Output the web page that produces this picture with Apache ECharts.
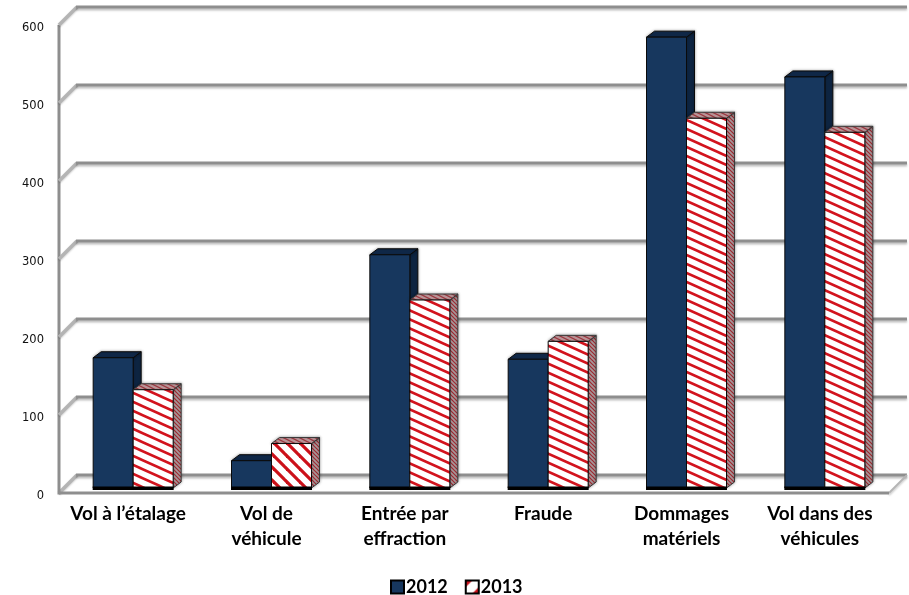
<!DOCTYPE html>
<html><head><meta charset="utf-8">
<style>html,body{margin:0;padding:0;background:#fff}#c{width:909px;height:595px}</style>
<script src="https://cdn.jsdelivr.net/npm/echarts@6/dist/echarts.min.js"></script>
</head><body><div id="c"></div>
<script>
const categories = ["Vol à l’étalage","Vol de\nvéhicule","Entrée par\neffraction","Fraude","Dommages\nmatériels","Vol dans des\nvéhicules"];
const values2012 = [167,35,299,165,578,527];
const values2013 = [126,57,241,188,474,456];
const yTicks = [0,100,200,300,400,500,600];
const seriesNames = ["2012","2013"];

function tile(w,h,bg,fg,lw){
  const c=document.createElement('canvas');c.width=w;c.height=h;
  const g=c.getContext('2d');g.fillStyle=bg;g.fillRect(0,0,w,h);
  g.strokeStyle=fg;g.lineWidth=lw;g.lineCap='square';
  for(let k=-2;k<=2;k++){g.beginPath();g.moveTo(-w,k*h-h);g.lineTo(2*w,k*h+2*h);g.stroke();}
  return {image:c,repeat:'repeat'};
}
function legendTile(n,bg,fg){
  const c=document.createElement('canvas');c.width=n;c.height=n;
  const g=c.getContext('2d');g.fillStyle=bg;g.fillRect(0,0,n,n);
  g.fillStyle=fg;
  g.beginPath();g.moveTo(0,0);g.lineTo(n*0.5,0);g.lineTo(0,n*0.5);g.closePath();g.fill();
  g.beginPath();g.moveTo(n,n);g.lineTo(n*0.5,n);g.lineTo(n,n*0.5);g.closePath();g.fill();
  return {image:c,repeat:'repeat'};
}
const frontTall = tile(20,9,'#ffffff','#d2131d',2.6);
const frontShort = tile(13,13,'#ffffff','#cc1019',3.2);
const sidePat = tile(4,4,'#a89a9c','#a02a32',1.2);
const topPat = tile(8,4,'#c0999c','#a03a42',1.2);
const legendPat = legendTile(13,'#ffffff','#c8101a');

const DX=8, DY=6, BARW=40, PLANE_X=5, PLANE_Y=5, WALL=18;

function barItem(idx){
  return function(params,api){
    const i=api.value(0), p=api.coord([i,api.value(1)]), base=api.coord([i,0]);
    const x0=p[0]+PLANE_X+(idx===0?-BARW:0), x1=x0+BARW;
    const yTop=p[1]-PLANE_Y, yBase=base[1]-PLANE_Y;
    const h=yBase-yTop;
    const front = idx===0 ? '#17375e' : (h<60?frontShort:frontTall);
    const side = idx===0 ? '#0e2542' : sidePat;
    const top = idx===0 ? '#10294a' : topPat;
    const edge = {stroke:idx===0?'#0a0a0a':'#3a3a3a',lineWidth:1};
    return {type:'group',children:[
      {type:'polygon',shape:{points:[[x1,yTop],[x1+DX,yTop-DY],[x1+DX,yBase-DY],[x1,yBase]]},
        style:Object.assign({fill:side,shadowBlur:3,shadowColor:'rgba(0,0,0,0.35)'},edge)},
      {type:'polygon',shape:{points:[[x0,yTop],[x0+DX,yTop-DY],[x1+DX,yTop-DY],[x1,yTop]]},
        style:Object.assign({fill:top,shadowBlur:3,shadowColor:'rgba(0,0,0,0.35)'},edge)},
      {type:'rect',shape:{x:x0,y:yTop,width:BARW,height:h},style:{fill:front,stroke:'#0a0a0a',lineWidth:1}},
      {type:'rect',shape:{x:x0-0.5,y:yBase-1.5,width:BARW+1,height:3.5},style:{fill:'#000'}}
    ]};
  };
}
function wallItem(params,api){
  const v=api.value(1), p=api.coord([0,v]), size=api.size([1,0]);
  const left=api.coord([0,0])[0]-size[0]/2, right=left+size[0]*categories.length;
  const kids=[];
  const st={stroke:'#8e8e8e',lineWidth:3,shadowBlur:2,shadowOffsetY:2,shadowColor:'rgba(0,0,0,0.25)'};
  const diag={stroke:'#b4b4b4',lineWidth:3.5,shadowBlur:2,shadowOffsetY:1,shadowColor:'rgba(0,0,0,0.2)'};
  kids.push({type:'line',shape:{x1:left,y1:p[1],x2:left+WALL,y2:p[1]-WALL},style:diag});
  kids.push({type:'line',shape:{x1:left+WALL-1,y1:p[1]-WALL,x2:right+WALL,y2:p[1]-WALL},style:st});
  if(v===0){
    kids.push({type:'line',shape:{x1:right,y1:p[1],x2:right+WALL,y2:p[1]-WALL},style:{stroke:'#b5b5b5',lineWidth:2,shadowBlur:2,shadowOffsetY:2,shadowColor:'rgba(0,0,0,0.2)'}});
    kids.push({type:'line',shape:{x1:left,y1:p[1],x2:right,y2:p[1]},style:{stroke:'#8e8e8e',lineWidth:3}});
    kids.push({type:'line',shape:{x1:left,y1:p[1]+1.5,x2:left,y2:api.coord([0,600])[1]},style:{stroke:'#8e8e8e',lineWidth:3}});
  }
  return {type:'group',children:kids};
}
const chart=echarts.init(document.getElementById('c'));
chart.setOption({
  animation:false,
  backgroundColor:'#fff',
  grid:{left:59,right:20,top:25,bottom:102},
  legend:{data:seriesNames,top:573,left:385,icon:'rect',itemWidth:13,itemHeight:13,itemGap:17,
    selectedMode:false,
    textStyle:{fontFamily:'Lato',fontWeight:'bold',fontSize:18,color:'#000',padding:[0,0,0,-3]}},
  xAxis:{type:'category',data:categories,axisLine:{show:false},axisTick:{show:false},splitLine:{show:false},
    axisLabel:{interval:0,fontFamily:'Lato',fontWeight:'bold',fontSize:19,color:'#000',lineHeight:25,margin:8}},
  yAxis:{type:'value',min:0,max:600,interval:100,axisLine:{show:false},axisTick:{show:false},splitLine:{show:false},
    axisLabel:{margin:15,formatter:'{t|{value}}',
      rich:{t:{fontFamily:'DejaVu Sans',fontSize:11.5,color:'#111',padding:[6,0,0,0]}}}},
  series:[
    {type:'custom',name:'walls',silent:true,z:1,data:yTicks.map(v=>[0,v]),renderItem:wallItem,clip:false},
    {type:'custom',name:seriesNames[0],z:2,data:values2012.map((v,i)=>[i,v]),renderItem:barItem(0),clip:false,
      itemStyle:{color:'#17375e',borderColor:'#000',borderWidth:1}},
    {type:'custom',name:seriesNames[1],z:3,data:values2013.map((v,i)=>[i,v]),renderItem:barItem(1),clip:false,
      itemStyle:{color:legendPat,borderColor:'#000',borderWidth:1}}
  ]
});
</script></body></html>
